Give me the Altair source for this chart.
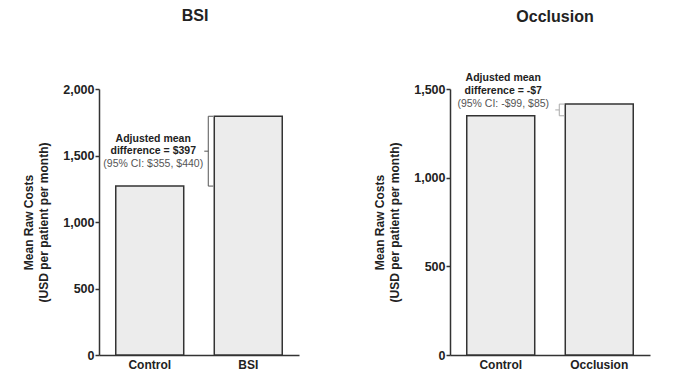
import altair as alt
import pandas as pd

# ---- data ----
bsi_groups = ["Control", "BSI"]
bsi_costs = [1270, 1795]
bsi_ticks = [0, 500, 1000, 1500, 2000]
bsi_note = ["Adjusted mean", "difference = $397", "(95% CI: $355, $440)"]

occ_groups = ["Control", "Occlusion"]
occ_costs = [1349, 1415]
occ_ticks = [0, 500, 1000, 1500]
occ_note = ["Adjusted mean", "difference = -$7", "(95% CI: -$99, $85)"]

y_title = ["Mean Raw Costs", "(USD per patient per month)"]
FONT = "Liberation Sans"


def panel(title, groups, costs, ticks, note, title_offset, title_dx,
          note_dys, note_dx, brace_color):
    ymax = ticks[-1]
    df = pd.DataFrame({"group": groups, "cost": costs})
    lo, hi = min(costs), max(costs)
    mid = (lo + hi) / 2
    brace = pd.DataFrame({"group": [groups[1]], "lo": [lo], "hi": [hi], "mid": [mid]})
    notes = pd.DataFrame({"group": [groups[0]] * len(note), "mid": [mid] * len(note),
                          "text": note})

    xscale = alt.Scale(domain=groups, paddingInner=0.31, paddingOuter=0.17)
    yscale = alt.Scale(domain=[0, ymax], nice=False)

    bars = alt.Chart(df).mark_bar(fill="#ececec", stroke="#333333", strokeWidth=1.5).encode(
        x=alt.X("group:N", scale=xscale,
                axis=alt.Axis(title=None, labelAngle=0, ticks=False, labelPadding=4,
                              labelFontSize=12, labelFontWeight="bold", labelColor="#222222")),
        y=alt.Y("cost:Q", scale=yscale,
                axis=alt.Axis(values=ticks, format=",d", title=y_title, grid=False,
                              tickSize=4, labelPadding=1, labelFontSize=12.5,
                              labelFontWeight="bold", labelColor="#222222",
                              titleFontSize=12, titleFontWeight="bold",
                              titleColor="#222222", titleLineHeight=15,
                              titlePadding=12)),
    )

    bx = alt.X("group:N", scale=xscale, bandPosition=0)
    bx2 = alt.X2("group", bandPosition=0)
    vert = alt.Chart(brace).mark_rule(color=brace_color, strokeWidth=1, xOffset=-6).encode(
        x=bx, y=alt.Y("lo:Q", scale=yscale), y2="hi:Q")
    top = alt.Chart(brace).mark_rule(color=brace_color, strokeWidth=1, xOffset=-6, x2Offset=-1).encode(
        x=bx, x2=bx2, y=alt.Y("hi:Q", scale=yscale))
    bot = alt.Chart(brace).mark_rule(color=brace_color, strokeWidth=1, xOffset=-6, x2Offset=-1).encode(
        x=bx, x2=bx2, y=alt.Y("lo:Q", scale=yscale))
    midt = alt.Chart(brace).mark_rule(color=brace_color, strokeWidth=1, xOffset=-10, x2Offset=-6).encode(
        x=bx, x2=bx2, y=alt.Y("mid:Q", scale=yscale))

    layers = [bars, vert, top, bot, midt]
    styles = [("bold", "#222222"), ("bold", "#222222"), ("normal", "#555555")]
    for i, (w, c) in enumerate(styles):
        t = alt.Chart(notes.iloc[[i]]).mark_text(
            font=FONT, fontSize=10.5, fontWeight=w, color=c, dy=note_dys[i], dx=note_dx,
            baseline="middle", align="center").encode(
            x=alt.X("group:N", scale=xscale),
            y=alt.Y("mid:Q", scale=yscale),
            text="text:N")
        layers.append(t)

    return alt.layer(*layers).properties(
        width=200, height=266,
        title=alt.TitleParams(title, fontSize=16, fontWeight="bold", color="#222222",
                              font=FONT, offset=title_offset, dx=title_dx, anchor="middle"),
    )


left = panel("BSI", bsi_groups, bsi_costs, bsi_ticks, bsi_note, 59, -4,
             [-12, 0, 12.5], 3.5, "#555555")
right = panel("Occlusion", occ_groups, occ_costs, occ_ticks, occ_note, 48, 5,
              [-32, -18.5, -6], 2.5, "#aaaaaa")

chart = alt.hconcat(left, right, spacing=74).properties(
    padding={"left": 14, "right": 5, "top": 0, "bottom": 0}
).configure(font=FONT).configure_view(stroke=None).configure_axis(
    domainColor="#333333", domainWidth=1.5, tickColor="#333333", tickWidth=1.5,
    labelFont=FONT, titleFont=FONT)

chart.save("out.html", embed_options={"renderer": "svg", "actions": False})
